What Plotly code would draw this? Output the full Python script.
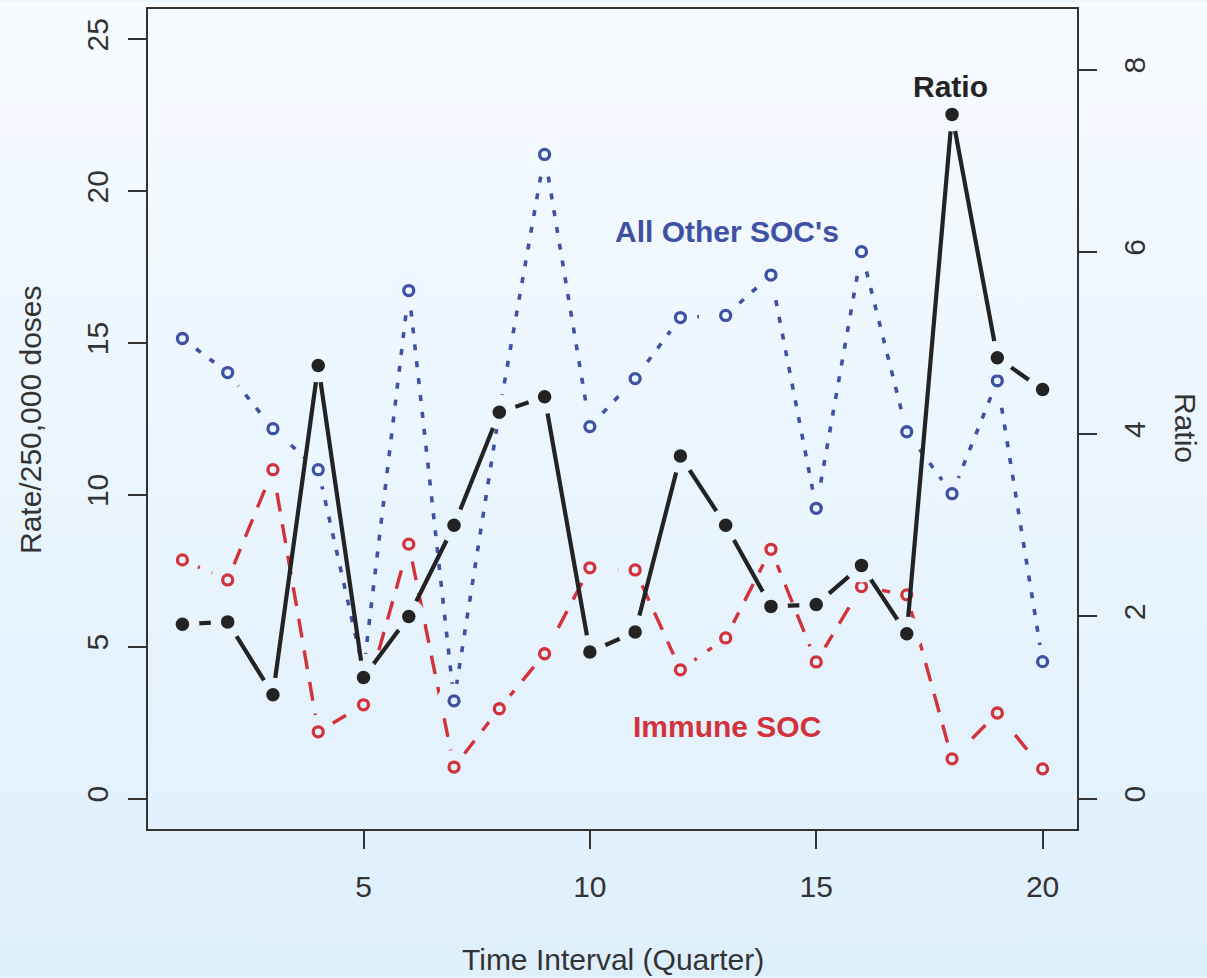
import plotly.graph_objects as go
import base64

# ---------------- data ----------------
quarters = [1, 2, 3, 4, 5, 6, 7, 8, 9, 10, 11, 12, 13, 14, 15, 16, 17, 18, 19, 20]
all_other_soc = [15.15, 14.03, 12.18, 10.83, 4.21, 16.73, 3.22, 12.74, 21.21, 12.25,
                 13.83, 15.84, 15.91, 17.24, 9.56, 18.01, 12.08, 10.04, 13.76, 4.51]
immune_soc = [7.86, 7.20, 10.83, 2.20, 3.09, 8.38, 1.04, 2.96, 4.77, 7.60,
              7.53, 4.24, 5.29, 8.21, 4.50, 6.98, 6.71, 1.31, 2.82, 0.98]
ratio = [1.915, 1.94, 1.14, 4.755, 1.33, 2.00, 3.00, 4.24, 4.41, 1.61,
         1.83, 3.76, 3.00, 2.11, 2.13, 2.56, 1.81, 7.51, 4.84, 4.49]
x_ticks = [5, 10, 15, 20]
y_ticks = [0, 5, 10, 15, 20, 25]
y2_ticks = [0, 2, 4, 6, 8]

# ---------------- style ----------------
W, H = 1207, 978
ML, MR, MT, MB = 148, 130, 7, 149
PW, PH = W - ML - MR, H - MT - MB
XR = [0.24, 20.76]
YR = [-1.0, 26.0]
Y2R = [-0.3333, 8.6667]
TOP = (246, 251, 255)
BOT = (222, 239, 252)
BLUE = "#3f51a3"
RED = "#d2323b"
BLACK = "#232323"
AX = "#333333"
FONT = "Liberation Sans, Arial, sans-serif"


def bg_at(py):
    t = min(max(py / H, 0), 1)
    c = [round(a + (b - a) * t) for a, b in zip(TOP, BOT)]
    return "rgb(%d,%d,%d)" % tuple(c)


def bg_colors(vals, rng):
    out = []
    for v in vals:
        py = MT + (rng[1] - v) / (rng[1] - rng[0]) * PH
        out.append(bg_at(py))
    return out


svg = ('<svg xmlns="http://www.w3.org/2000/svg" width="%d" height="%d" preserveAspectRatio="none">'
       '<defs><linearGradient id="g" x1="0" y1="0" x2="0" y2="1">'
       '<stop offset="0" stop-color="rgb%s"/><stop offset="1" stop-color="rgb%s"/>'
       '</linearGradient></defs><rect width="%d" height="%d" fill="url(#g)"/></svg>'
       % (W, H, str(TOP), str(BOT), W, H))
svg_uri = "data:image/svg+xml;base64," + base64.b64encode(svg.encode()).decode()

fig = go.Figure()

GAP = 34


def add_series(y, rng, color, dash, lw, yaxis, open_marker):
    fig.add_trace(go.Scatter(x=quarters, y=y, mode="lines", yaxis=yaxis,
                             line=dict(color=color, width=lw, dash=dash),
                             hoverinfo="skip", showlegend=False))
    cols = bg_colors(y, rng)
    fig.add_trace(go.Scatter(x=quarters, y=y, mode="markers", yaxis=yaxis,
                             marker=dict(size=GAP, color=cols, line=dict(width=0)),
                             hoverinfo="skip", showlegend=False))
    if open_marker:
        mk = dict(size=10, color=cols, line=dict(color=color, width=3.3))
    else:
        mk = dict(size=13.5, color=color, line=dict(width=0))
    fig.add_trace(go.Scatter(x=quarters, y=y, mode="markers", yaxis=yaxis,
                             marker=mk, showlegend=False))


add_series(immune_soc, YR, RED, "19px,13px", 3.4, "y", True)
add_series(all_other_soc, YR, BLUE, "6px,11px", 3.6, "y", True)
add_series(ratio, Y2R, BLACK, "solid", 4.2, "y2", False)

axis_common = dict(showgrid=False, zeroline=False, showline=True, linewidth=2,
                   linecolor=AX, ticks="outside", ticklen=18, tickwidth=2,
                   tickcolor=AX, tickfont=dict(size=30, color=AX, family=FONT))

fig.update_layout(
    width=W, height=H,
    margin=dict(l=ML, r=MR, t=MT, b=MB),
    paper_bgcolor="rgb(235,245,253)",
    plot_bgcolor="rgba(0,0,0,0)",
    font=dict(family=FONT, color=AX),
    xaxis=dict(range=XR, tickvals=x_ticks, mirror=True, ticklabelstandoff=12, **axis_common),
    yaxis=dict(range=YR, tickvals=y_ticks, tickangle=-90, mirror=True,
               ticklabelstandoff=8, **axis_common),
    yaxis2=dict(range=Y2R, tickvals=y2_ticks, tickangle=-90, overlaying="y",
                side="right", ticklabelstandoff=12, **axis_common),
    images=[dict(source=svg_uri, xref="paper", yref="paper",
                 x=-ML / PW, y=1 + MT / PH, sizex=W / PW, sizey=H / PH,
                 xanchor="left", yanchor="top", sizing="stretch", layer="below")],
    annotations=[
        dict(text="Time Interval (Quarter)", xref="paper", yref="paper",
             x=0.5, y=-(960 - (MT + PH)) / PH, showarrow=False,
             xanchor="center", yanchor="middle", font=dict(size=30, color=AX)),
        dict(text="Rate/250,000 doses", xref="paper", yref="paper",
             x=(30 - ML) / PW, y=0.5, textangle=-90, showarrow=False,
             xanchor="center", yanchor="middle", font=dict(size=30, color=AX)),
        dict(text="Ratio", xref="paper", yref="paper",
             x=(1185 - ML) / PW, y=(MT + PH - 427) / PH, textangle=90, showarrow=False,
             xanchor="center", yanchor="middle", font=dict(size=30, color=AX)),
        dict(text="<b>Ratio</b>", x=17.97, y=23.45, xref="x", yref="y", showarrow=False,
             font=dict(size=30, color=BLACK)),
        dict(text="<b>All Other SOC's</b>", x=13.02, y=18.66, xref="x", yref="y",
             showarrow=False, font=dict(size=30, color=BLUE)),
        dict(text="<b>Immune SOC</b>", x=13.02, y=2.38, xref="x", yref="y",
             showarrow=False, font=dict(size=30, color=RED)),
    ],
)

fig.write_html("out.html", config={"displayModeBar": False},
               post_script="document.body.style.margin='0';document.body.style.overflow='hidden';")
